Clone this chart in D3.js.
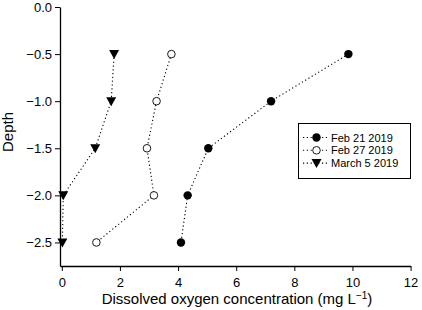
<!DOCTYPE html>
<html><head><meta charset="utf-8">
<script src="https://cdn.jsdelivr.net/npm/d3@7"></script>
<style>body{margin:0;background:#fff;} text{font-family:"Liberation Sans",Arial,sans-serif;}</style>
</head><body><svg id="c" width="422" height="310"></svg>
<script>
const depths = [-0.5, -1.0, -1.5, -2.0, -2.5];
const feb21 = [9.86, 7.20, 5.04, 4.33, 4.10];
const feb27 = [3.77, 3.26, 2.93, 3.17, 1.19];
const mar5 = [1.80, 1.70, 1.15, 0.05, 0.02];
const seriesNames = ["Feb 21 2019", "Feb 27 2019", "March 5 2019"];
const xTicks = [0, 2, 4, 6, 8, 10, 12];
const yTicks = [0.0, -0.5, -1.0, -1.5, -2.0, -2.5];

const svg = d3.select("#c");
const x = d3.scaleLinear().domain([-0.062, 12]).range([60, 410.6]);
const y = d3.scaleLinear().domain([-2.75, 0]).range([266, 7]);

const fmtMinus = s => s.replace("-", "\u2212");
const xAxis = d3.axisBottom(x).tickValues(xTicks).tickSize(5).tickSizeOuter(0).tickFormat(d => fmtMinus(d3.format("d")(d)));
const yAxis = d3.axisLeft(y).tickValues(yTicks).tickSize(5).tickSizeOuter(0).tickFormat(d => fmtMinus(d3.format(".1f")(d)));

const gx = svg.append("g").attr("transform", "translate(0,266)").call(xAxis);
const gy = svg.append("g").attr("transform", "translate(60,0)").call(yAxis);
[gx, gy].forEach(g => {
  g.selectAll("path").attr("stroke", "#000").attr("stroke-width", 1.3);
  g.selectAll("line").attr("stroke", "#000").attr("stroke-width", 1);
  g.selectAll("text").attr("fill", "#000").style("font-size", "13px").style("font-family", "'Liberation Sans', Arial, sans-serif");
});
gx.selectAll("text").attr("dy", "1.0em");
gy.selectAll("text").attr("x", -8);

svg.append("text").attr("x", 237).attr("y", 304).attr("text-anchor", "middle")
  .style("font-size", "15px")
  .call(t => {
    t.append("tspan").text("Dissolved oxygen concentration (mg L");
    t.append("tspan").text("\u22121").attr("dy", -5).style("font-size", "10px");
    t.append("tspan").text(")").attr("dy", 5);
  });
svg.append("text").attr("transform", "translate(13,132) rotate(-90)").attr("text-anchor", "middle")
  .style("font-size", "15px").text("Depth");

const data = [feb21, feb27, mar5].map((vals, i) => ({name: seriesNames[i], idx: i, pts: vals.map((v, j) => [v, depths[j]])}));
const line = d3.line().x(d => x(d[0])).y(d => y(d[1]));

function marker(g, idx) {
  if (idx === 0) g.append("circle").attr("r", 4.2).attr("fill", "#000");
  else if (idx === 1) g.append("circle").attr("r", 3.8).attr("fill", "#fff").attr("stroke", "#000").attr("stroke-width", 0.9);
  else g.append("path").attr("d", "M-5,-4L5,-4L0,5Z").attr("fill", "#000");
}

data.forEach(s => {
  svg.append("path").datum(s.pts).attr("d", line).attr("fill", "none")
    .attr("stroke", "#000").attr("stroke-width", 1.1).attr("stroke-dasharray", "1.2,2.6");
  s.pts.forEach(p => {
    const g = svg.append("g").attr("transform", `translate(${x(p[0])},${y(p[1])})`);
    marker(g, s.idx);
  });
});

// legend
const lg = svg.append("g");
lg.append("rect").attr("x", 298.5).attr("y", 123.5).attr("width", 112).attr("height", 55)
  .attr("fill", "#fff").attr("stroke", "#000").attr("stroke-width", 1);
data.forEach((s, i) => {
  const yy = 137.5 + i * 12.8;
  lg.append("line").attr("x1", 303).attr("x2", 328).attr("y1", yy).attr("y2", yy)
    .attr("stroke", "#000").attr("stroke-width", 1.1).attr("stroke-dasharray", "1.2,2.6");
  const g = lg.append("g").attr("transform", `translate(316.5,${yy})`);
  marker(g, s.idx);
  lg.append("text").attr("x", 331).attr("y", yy + 4).style("font-size", "11px").text(s.name);
});
</script></body></html>
